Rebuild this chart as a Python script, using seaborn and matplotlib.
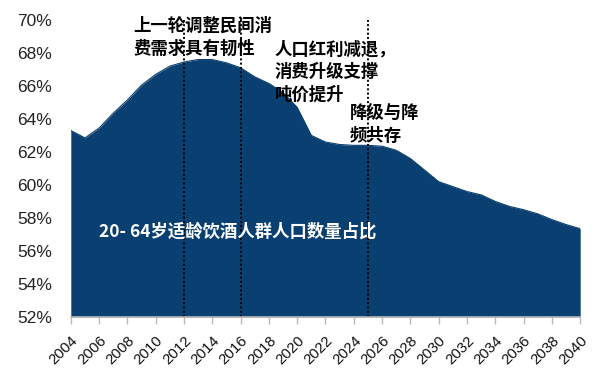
import matplotlib
matplotlib.use("Agg")
import matplotlib.pyplot as plt
import seaborn as sns
import pandas as pd

# Share of the 20-64 drinking-age population (%), 2004-2040
years = list(range(2004, 2041))
share = [63.3, 62.85, 63.45, 64.35, 65.15, 66.05, 66.7, 67.2, 67.45, 67.6,
         67.6, 67.4, 67.1, 66.55, 66.15, 65.6, 64.7, 63.0, 62.6, 62.45,
         62.4, 62.4, 62.35, 62.1, 61.6, 60.9, 60.2, 59.9, 59.6, 59.4,
         59.0, 58.7, 58.5, 58.25, 57.9, 57.6, 57.35]

phase_years = [2012, 2016, 2025]
y_ticks = [52, 54, 56, 58, 60, 62, 64, 66, 68, 70]
x_ticks = list(range(2004, 2041, 2))

df = pd.DataFrame({"year": years, "share": share})

sns.set_style("white")
plt.rcParams["font.family"] = ["Liberation Sans", "Noto Sans CJK SC", "DejaVu Sans"]

fig = plt.figure(figsize=(6.0, 3.69), dpi=100)
ax = fig.add_axes([0.118, 0.141, 0.849, 0.805])

navy = "#0a4071"
sns.lineplot(data=df, x="year", y="share", ax=ax, color=navy, linewidth=0.8)
ax.fill_between(df["year"], df["share"], 52, color=navy, linewidth=0)

for yr in phase_years:
    ax.axvline(yr, color="black", linestyle=(0, (1, 1.2)), linewidth=1.4)

ax.set_xlim(2004, 2040)
ax.set_ylim(52, 70)
ax.set_yticks(y_ticks)
ax.set_yticklabels([f"{v}%" for v in y_ticks], fontsize=12.5, color="#222222")
ax.set_xticks(x_ticks)
ax.set_xticklabels([str(v) for v in x_ticks], rotation=45, ha="right",
                   rotation_mode="anchor", fontsize=10.8, color="#111111")
ax.set_xlabel("")
ax.set_ylabel("")

for side in ["top", "right", "left"]:
    ax.spines[side].set_visible(False)
ax.spines["bottom"].set_color("#bbbbbb")
ax.spines["bottom"].set_linewidth(1.2)
ax.tick_params(axis="x", which="major", bottom=True, length=5, width=1,
               color="#bbbbbb", pad=7)
ax.tick_params(axis="y", left=False, pad=10)

cjk = ["Noto Sans CJK SC", "DejaVu Sans"]
txt = dict(fontsize=12.5, fontweight="bold", family=cjk, color="black",
           va="center", ha="left")
ax.text(2008.4, 69.65, "上一轮调整民间消", **txt)
ax.text(2008.4, 68.25, "费需求具有韧性", **txt)
ax.text(2018.4, 68.2, "人口红利减退，", **txt)
ax.text(2018.4, 66.85, "消费升级支撑", **txt)
ax.text(2018.4, 65.45, "吨价提升", **txt)
ax.text(2023.7, 64.35, "降级与降", **txt)
ax.text(2023.7, 62.95, "频共存", **txt)
ax.text(2006.0, 57.2, "20- 64岁适龄饮酒人群人口数量占比", fontsize=12.5,
        fontweight="bold", family=cjk, color="white", va="center", ha="left")

fig.savefig("out.png", dpi=100)
